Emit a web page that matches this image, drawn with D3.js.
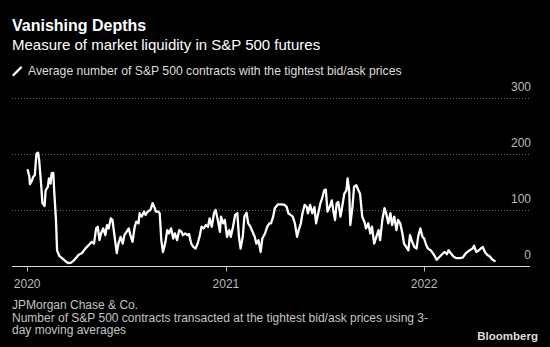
<!DOCTYPE html>
<html>
<head>
<meta charset="utf-8">
<script src="https://cdn.jsdelivr.net/npm/d3@7.9.0/dist/d3.min.js"></script>
<style>
  html, body { margin: 0; padding: 0; background: #000; }
  svg { display: block; font-family: "Liberation Sans", Arial, sans-serif; }
</style>
</head>
<body>
<svg id="chart" width="550" height="347"></svg>
<script>
// 3-day moving average of contracts at the tightest bid/ask
const dates = [
  '2020-01-02','2020-01-05','2020-01-06','2020-01-10','2020-01-12','2020-01-15','2020-01-18','2020-01-21','2020-01-23','2020-01-27',
  '2020-01-29','2020-02-02','2020-02-04','2020-02-08','2020-02-10','2020-02-13','2020-02-15','2020-02-18','2020-02-20','2020-02-23',
  '2020-02-25','2020-02-29','2020-03-05','2020-03-11','2020-03-17','2020-03-22','2020-03-28','2020-04-05','2020-04-11','2020-04-17',
  '2020-04-23','2020-04-29','2020-05-03','2020-05-07','2020-05-10','2020-05-13','2020-05-16','2020-05-20','2020-05-24','2020-05-27',
  '2020-05-30','2020-06-03','2020-06-06','2020-06-10','2020-06-14','2020-06-17','2020-06-21','2020-06-25','2020-06-28','2020-07-02',
  '2020-07-06','2020-07-09','2020-07-13','2020-07-17','2020-07-20','2020-07-24','2020-07-26','2020-07-30','2020-08-03','2020-08-06',
  '2020-08-10','2020-08-15','2020-08-19','2020-08-23','2020-08-25','2020-08-29','2020-09-01','2020-09-04','2020-09-07','2020-09-11',
  '2020-09-15','2020-09-18','2020-09-22','2020-09-26','2020-09-29','2020-10-03','2020-10-07','2020-10-11','2020-10-14','2020-10-18',
  '2020-10-22','2020-10-25','2020-10-29','2020-11-02','2020-11-06','2020-11-10','2020-11-14','2020-11-17','2020-11-21','2020-11-25',
  '2020-11-29','2020-12-02','2020-12-06','2020-12-10','2020-12-13','2020-12-17','2020-12-21','2020-12-23','2020-12-27','2020-12-30',
  '2021-01-03','2021-01-07','2021-01-10','2021-01-14','2021-01-18','2021-01-22','2021-01-25','2021-01-28','2021-02-01','2021-02-04',
  '2021-02-08','2021-02-11','2021-02-15','2021-02-19','2021-02-23','2021-02-26','2021-03-02','2021-03-06','2021-03-09','2021-03-14',
  '2021-03-18','2021-03-22','2021-03-25','2021-03-29','2021-04-01','2021-04-07','2021-04-13','2021-04-19','2021-04-23','2021-04-26',
  '2021-04-30','2021-05-04','2021-05-08','2021-05-12','2021-05-15','2021-05-19','2021-05-22','2021-05-26','2021-05-30','2021-06-01',
  '2021-06-05','2021-06-09','2021-06-13','2021-06-16','2021-06-20','2021-06-24','2021-06-27','2021-07-01','2021-07-04','2021-07-07',
  '2021-07-11','2021-07-15','2021-07-18','2021-07-21','2021-07-24','2021-07-27','2021-07-31','2021-08-03','2021-08-07','2021-08-11',
  '2021-08-13','2021-08-16','2021-08-18','2021-08-22','2021-08-25','2021-08-29','2021-09-02','2021-09-05','2021-09-09','2021-09-13',
  '2021-09-16','2021-09-20','2021-09-24','2021-09-27','2021-10-01','2021-10-05','2021-10-09','2021-10-12','2021-10-16','2021-10-20',
  '2021-10-23','2021-10-27','2021-10-31','2021-11-03','2021-11-07','2021-11-11','2021-11-14','2021-11-18','2021-11-22','2021-11-25',
  '2021-11-29','2021-12-03','2021-12-06','2021-12-10','2021-12-14','2021-12-18','2021-12-21','2021-12-25','2021-12-29','2022-01-01',
  '2022-01-05','2022-01-08','2022-01-13','2022-01-17','2022-01-21','2022-01-24','2022-01-30','2022-02-03','2022-02-08','2022-02-12',
  '2022-02-15','2022-02-19','2022-02-24','2022-03-01','2022-03-07','2022-03-13','2022-03-19','2022-03-26','2022-03-31','2022-04-03',
  '2022-04-07','2022-04-12','2022-04-15','2022-04-19','2022-04-23','2022-04-27','2022-05-02','2022-05-06','2022-05-11'
];
const contracts = [
  171,159,146,153,159,162,200,202,189,141,
  112,107,135,141,156,147,165,166,129,82,
  28,18,14,9,5,6,11,20,23,31,
  37,43,40,67,70,46,58,67,55,73,
  67,85,82,52,23,40,52,40,55,61,
  67,55,43,70,79,76,94,88,97,91,
  97,100,112,103,97,97,94,46,25,40,
  64,58,67,49,58,46,64,61,55,58,
  55,57,40,34,31,40,55,70,67,73,
  70,85,70,94,100,82,61,88,76,82,
  52,64,52,70,91,94,52,31,52,88,
  95,76,70,61,52,40,46,25,49,58,
  70,76,76,88,103,110,110,109,105,94,
  91,88,76,52,64,76,94,109,105,94,
  109,94,105,76,94,112,120,135,136,97,
  105,117,97,82,112,114,88,105,129,135,
  156,135,73,105,141,144,135,129,88,79,
  67,76,58,70,40,52,64,46,82,103,
  94,76,94,73,88,64,82,76,58,40,
  34,28,55,43,34,31,52,67,52,49,
  37,31,28,23,17,11,17,21,25,21,
  28,23,17,14,14,15,23,28,31,36,
  25,28,31,34,25,20,17,12,9
];
const yTicks = [0, 100, 200, 300];
const xTicks = ['2020-01-01', '2021-01-01', '2022-01-01'];
const footerLines = [
  'JPMorgan Chase & Co.',
  'Number of S&P 500 contracts transacted at the tightest bid/ask prices using 3-',
  'day moving averages'
];

const parse = d3.utcParse('%Y-%m-%d');
const data = dates.map((d, i) => ({ date: parse(d), value: contracts[i] }));

const svg = d3.select('#chart');
const plotLeft = 12, plotRight = 530, plotTop = 97.7, plotBottom = 266;

const x = d3.scaleUtc()
  .domain([parse('2019-12-04'), parse('2022-07-15')])
  .range([plotLeft, plotRight]);
const y = d3.scaleLinear().domain([0, 300]).range([plotBottom, plotTop]);

// titles
svg.append('text').attr('x', 12).attr('y', 31)
  .attr('fill', '#fff').attr('font-size', 16).attr('font-weight', 'bold')
  .text('Vanishing Depths');
svg.append('text').attr('x', 12).attr('y', 49.5)
  .attr('fill', '#fff').attr('font-size', 15)
  .text('Measure of market liquidity in S&P 500 futures');

// legend
svg.append('line')
  .attr('x1', 13.5).attr('y1', 75).attr('x2', 21).attr('y2', 67.5)
  .attr('stroke', '#fff').attr('stroke-width', 2.4).attr('stroke-linecap', 'round');
svg.append('text').attr('x', 28).attr('y', 75.3)
  .attr('fill', '#ddd').attr('font-size', 12.2)
  .text('Average number of S&P 500 contracts with the tightest bid/ask prices');

// gridlines + y labels
const grid = svg.append('g');
grid.selectAll('line').data(yTicks.filter(d => d > 0)).join('line')
  .attr('x1', plotLeft).attr('x2', plotRight)
  .attr('y1', d => Math.round(y(d)) + 0.5).attr('y2', d => Math.round(y(d)) + 0.5)
  .attr('stroke', '#6a6a6a').attr('stroke-dasharray', '1,2');
grid.selectAll('text').data(yTicks).join('text')
  .attr('x', 531).attr('y', d => y(d) - 7)
  .attr('text-anchor', 'end').attr('fill', '#bbb').attr('font-size', 12)
  .text(d => d);

// x axis
const xAxis = svg.append('g').attr('transform', `translate(0,${Math.round(plotBottom) + 0.5})`);
xAxis.append('line').attr('x1', plotLeft).attr('x2', plotRight).attr('stroke', '#ddd');
xAxis.selectAll('.tick').data(xTicks.map(parse)).join('line')
  .attr('class', 'tick')
  .attr('x1', d => Math.round(x(d)) + 0.5).attr('x2', d => Math.round(x(d)) + 0.5)
  .attr('y1', 0).attr('y2', 5).attr('stroke', '#bbb');
xAxis.selectAll('text').data(xTicks.map(parse)).join('text')
  .attr('x', d => x(d)).attr('y', 21.5)
  .attr('text-anchor', 'middle').attr('fill', '#bbb').attr('font-size', 12)
  .text(d => d3.utcFormat('%Y')(d));

// line
svg.append('path').datum(data)
  .attr('fill', 'none').attr('stroke', '#fff').attr('stroke-width', 2.3)
  .attr('stroke-linejoin', 'round').attr('stroke-linecap', 'round')
  .attr('d', d3.line().x(d => x(d.date)).y(d => y(d.value)));

// footer
svg.append('g').selectAll('text').data(footerLines).join('text')
  .attr('x', 12).attr('y', (d, i) => 309 + i * 12.5)
  .attr('fill', '#c4c4c4').attr('font-size', 12)
  .text(d => d);
svg.append('text').attr('x', 538).attr('y', 340)
  .attr('text-anchor', 'end').attr('fill', '#ddd')
  .attr('font-size', 11.5).attr('font-weight', 'bold')
  .text('Bloomberg');
</script>
</body>
</html>
